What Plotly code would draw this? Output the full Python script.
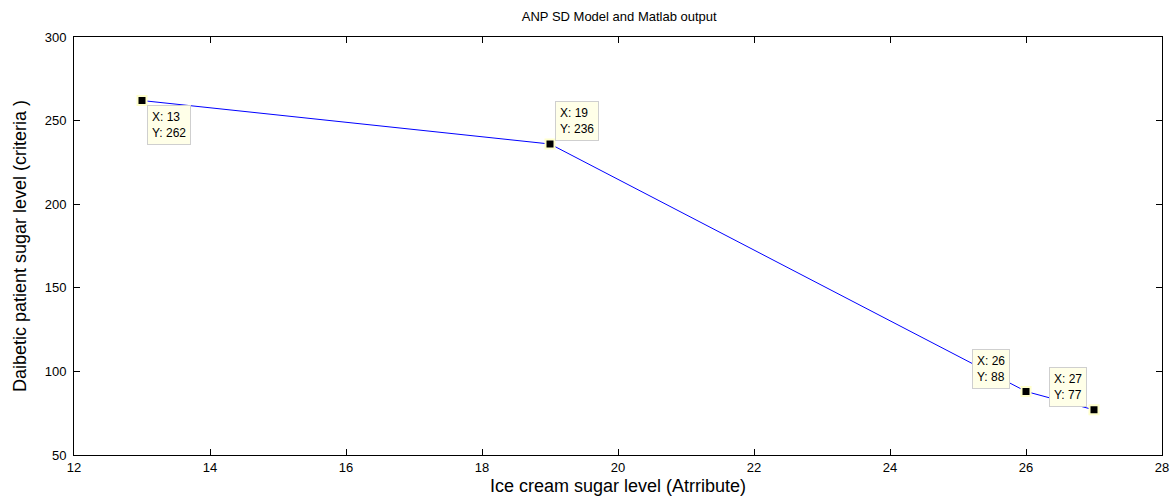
import plotly.graph_objects as go

x_vals = [13, 19, 26, 27]
y_vals = [262, 236, 88, 77]

# datatip placement (pixel shifts and anchors), styling only
tip_pos = [
    dict(xanchor="left", yanchor="top", xshift=5, yshift=-4),
    dict(xanchor="left", yanchor="bottom", xshift=5, yshift=3),
    dict(xanchor="right", yanchor="bottom", xshift=-16, yshift=2),
    dict(xanchor="right", yanchor="bottom", xshift=-7, yshift=3),
]

FONT = "Liberation Sans, Arial"

fig = go.Figure()
fig.add_trace(go.Scatter(
    x=x_vals, y=y_vals, mode="lines",
    line=dict(color="#0000FF", width=1),
    showlegend=False, hoverinfo="skip",
))
fig.add_trace(go.Scatter(
    x=x_vals, y=y_vals, mode="markers",
    marker=dict(symbol="square", size=9, color="black",
                line=dict(color="#FFFFCC", width=2)),
    showlegend=False,
))

for xv, yv, pos in zip(x_vals, y_vals, tip_pos):
    fig.add_annotation(
        x=xv, y=yv, xref="x", yref="y",
        text=f"X: {xv}<br>Y: {yv}",
        showarrow=False, align="left",
        bgcolor="#FFFFE8", bordercolor="#CFCFCF", borderwidth=1, borderpad=4,
        font=dict(family=FONT, size=12, color="black"),
        **pos,
    )

axis_common = dict(
    showgrid=False, zeroline=False, automargin=False,
    showline=True, linecolor="black", linewidth=1, mirror="ticks",
    ticks="inside", ticklen=6, tickcolor="black",
    tickfont=dict(family=FONT, size=13, color="black"),
)

fig.update_layout(
    width=1175, height=497,
    margin=dict(l=74, r=13, t=37, b=42),
    paper_bgcolor="white", plot_bgcolor="white",
    title=dict(text="ANP SD Model and Matlab output", x=0.527, xanchor="center",
               y=0.966, yanchor="middle",
               font=dict(family=FONT, size=13, color="black")),
    xaxis=dict(range=[12, 28], dtick=2,
               title=dict(text="Ice cream sugar level (Atrribute)", standoff=5,
                          font=dict(family=FONT, size=18, color="black")),
               **axis_common),
    yaxis=dict(range=[50, 300], dtick=50, ticklabelstandoff=4,
               title=dict(text="Daibetic patient sugar level (criteria )", standoff=13,
                          font=dict(family=FONT, size=18, color="black")),
               **axis_common),
)

fig.write_html("out.html", config={"displayModeBar": False},
               post_script="document.body.style.margin='0';document.body.style.padding='0';")
